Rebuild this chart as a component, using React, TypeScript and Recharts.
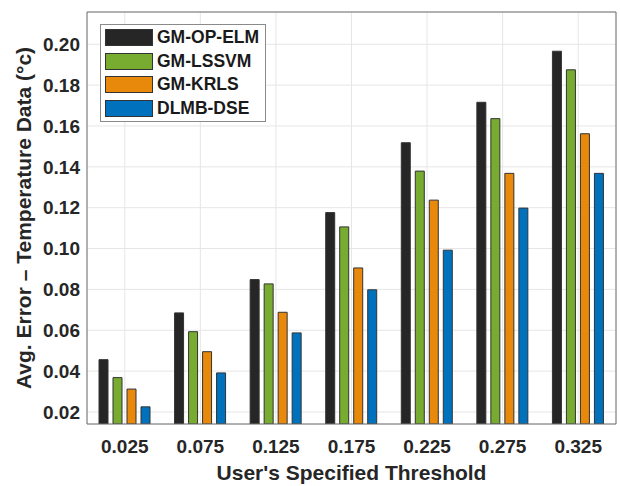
import { BarChart, Bar, XAxis, YAxis, CartesianGrid, Legend } from "recharts";

const thresholds = ["0.025", "0.075", "0.125", "0.175", "0.225", "0.275", "0.325"];

const gmOpElm = [0.0456, 0.0685, 0.0848, 0.1176, 0.1518, 0.1716, 0.1966];
const gmLssvm = [0.0368, 0.0593, 0.0827, 0.1106, 0.1379, 0.1636, 0.1875];
const gmKrls = [0.0312, 0.0495, 0.0688, 0.0905, 0.1237, 0.1368, 0.1562];
const dlmbDse = [0.0225, 0.0391, 0.0587, 0.0798, 0.0992, 0.1198, 0.1368];

const yTicks = [0.02, 0.04, 0.06, 0.08, 0.1, 0.12, 0.14, 0.16, 0.18, 0.2];

const series = [
  { key: "gmOpElm", name: "GM-OP-ELM", color: "#262626", values: gmOpElm },
  { key: "gmLssvm", name: "GM-LSSVM", color: "#77ac30", values: gmLssvm },
  { key: "gmKrls", name: "GM-KRLS", color: "#e8890c", values: gmKrls },
  { key: "dlmbDse", name: "DLMB-DSE", color: "#0072bd", values: dlmbDse },
];

const data = thresholds.map((t, i) => {
  const row: Record<string, string | number> = { threshold: t };
  series.forEach((s) => {
    row[s.key] = s.values[i];
  });
  return row;
});

const FONT = "'Liberation Sans', Arial, Helvetica, sans-serif";
const AXIS = "#6e6e6e";
const TEXT = "#262626";

// keep legend rows in the series order (recharts sorts them by name)
function LegendBox(props: any) {
  const items = [...(props.payload || [])].sort(
    (a: any, b: any) =>
      series.findIndex((s) => s.name === a.value) - series.findIndex((s) => s.name === b.value)
  );
  return (
    <div
      style={{
        boxSizing: "border-box",
        width: 166,
        border: "1px solid #8a8a8a",
        background: "#fff",
        padding: "1px 4px",
        fontFamily: FONT,
      }}
    >
      {items.map((it: any) => (
        <div key={it.value} style={{ display: "flex", alignItems: "center", height: 23.6 }}>
          <div
            style={{
              boxSizing: "border-box",
              width: 48,
              height: 17,
              background: it.color,
              border: "1px solid #333",
            }}
          />
          <span style={{ marginLeft: 4, fontSize: 17.5, fontWeight: 700, color: "#1a1a1a" }}>
            {it.value}
          </span>
        </div>
      ))}
    </div>
  );
}

export default function App() {
  const tickStyle = { fontSize: 19, fontWeight: 700, fill: TEXT, fontFamily: FONT };
  const titleStyle = { fontSize: 21, fontWeight: 700, fill: TEXT, fontFamily: FONT, textAnchor: "middle" as const };

  return (
    <div style={{ position: "absolute", left: 0, top: 0, width: 620, height: 486, background: "#fff" }}>
      <BarChart
        width={620}
        height={486}
        data={data}
        margin={{ top: 12, right: 4, bottom: 0, left: 0 }}
        barSize={9}
        barGap={5}
      >
        <CartesianGrid xAxisId="x" yAxisId="y" stroke="#e6e6e6" />
        <XAxis
          xAxisId="x"
          dataKey="threshold"
          height={62}
          tickLine={false}
          tickSize={0}
          tickMargin={16}
          axisLine={{ stroke: AXIS }}
          tick={tickStyle}
          label={{ value: "User's Specified Threshold", position: "insideBottom", offset: 6, style: titleStyle }}
        />
        <XAxis
          xAxisId="xb"
          dataKey="threshold"
          orientation="bottom"
          mirror
          height={6}
          tick={false}
          tickSize={5}
          axisLine={false}
          tickLine={{ stroke: AXIS }}
        />
        <XAxis
          xAxisId="xt"
          dataKey="threshold"
          orientation="top"
          mirror
          height={6}
          tick={false}
          tickSize={5}
          axisLine={{ stroke: AXIS }}
          tickLine={{ stroke: AXIS }}
        />
        <YAxis
          yAxisId="y"
          width={87}
          domain={[0.0141, 0.2158]}
          allowDataOverflow
          ticks={yTicks}
          tickFormatter={(v: number) => v.toFixed(2)}
          tickLine={false}
          tickSize={0}
          tickMargin={7}
          axisLine={{ stroke: AXIS }}
          tick={tickStyle}
          label={{
            value: "Avg. Error \u2013 Temperature Data (\u00b0c)",
            angle: -90,
            position: "insideLeft",
            offset: 24,
            style: titleStyle,
          }}
        />
        <YAxis
          yAxisId="yl"
          orientation="left"
          mirror
          width={6}
          domain={[0.0141, 0.2158]}
          allowDataOverflow
          ticks={yTicks}
          tick={false}
          tickSize={5}
          axisLine={false}
          tickLine={{ stroke: AXIS }}
        />
        <YAxis
          yAxisId="yr"
          orientation="right"
          mirror
          width={6}
          domain={[0.0141, 0.2158]}
          allowDataOverflow
          ticks={yTicks}
          tick={false}
          tickSize={5}
          axisLine={{ stroke: AXIS }}
          tickLine={{ stroke: AXIS }}
        />
        <Legend
          layout="horizontal"
          verticalAlign="middle"
          align="center"
          content={<LegendBox />}
          wrapperStyle={{ left: 100, top: 24, right: "auto", bottom: "auto", width: 166 }}
        />
        {series.map((s) => (
          <Bar
            key={s.key}
            xAxisId="x"
            yAxisId="y"
            dataKey={s.key}
            name={s.name}
            fill={s.color}
            stroke="#333"
            strokeWidth={1}
            isAnimationActive={false}
          />
        ))}
      </BarChart>
    </div>
  );
}
